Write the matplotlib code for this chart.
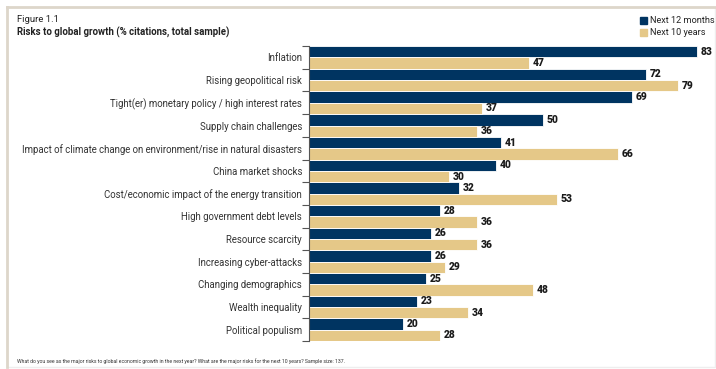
import matplotlib.pyplot as plt
from matplotlib.patches import Rectangle
import numpy as np

plt.rcParams['font.family'] = ['Roboto', 'DejaVu Sans']

risks = ["Inflation", "Rising geopolitical risk", "Tight(er) monetary policy / high interest rates",
         "Supply chain challenges", "Impact of climate change on environment/rise in natural disasters",
         "China market shocks", "Cost/economic impact of the energy transition",
         "High government debt levels", "Resource scarcity", "Increasing cyber-attacks",
         "Changing demographics", "Wealth inequality", "Political populism"]
next_12m = [83, 72, 69, 50, 41, 40, 32, 28, 26, 26, 25, 23, 20]
next_10y = [47, 79, 37, 36, 66, 30, 53, 36, 36, 29, 48, 34, 28]

navy = "#003461"
gold = "#E5C888"

fig = plt.figure(figsize=(7.16, 3.69), dpi=100)
ax = fig.add_axes([0.4316, 0.076, 0.555, 0.799])

y = np.arange(len(risks))
ax.barh(y - 0.25, next_12m, height=0.5, color=navy, edgecolor="white", linewidth=0.6)
ax.barh(y + 0.25, next_10y, height=0.5, color=gold, edgecolor="white", linewidth=0.6)
for i in range(len(risks)):
    ax.text(next_12m[i] + 0.8, y[i] - 0.25, str(next_12m[i]), va="center", ha="left",
            fontsize=7.4, fontweight="black", color="#1a1a1a")
    ax.text(next_10y[i] + 0.8, y[i] + 0.25, str(next_10y[i]), va="center", ha="left",
            fontsize=7.4, fontweight="black", color="#1a1a1a")

ax.set_xlim(0, 85)
ax.set_ylim(len(risks) - 0.5, -0.5)
ax.set_yticks(y)
ax.set_yticklabels(risks, fontsize=6.9, color="#333333")
ax.set_yticks(np.arange(len(risks) + 1) - 0.5, minor=True)
ax.tick_params(axis="y", which="major", length=0, pad=5)
ax.tick_params(axis="y", which="minor", length=5, color="#555555", width=0.8)
ax.set_xticks([])
for s in ["top", "right", "bottom"]:
    ax.spines[s].set_visible(False)
ax.spines["left"].set_color("#555555")
ax.spines["left"].set_linewidth(0.8)

# frame around the figure
fig.patches.append(Rectangle((7 / 716, 2 / 369), 708 / 716, 360 / 369, transform=fig.transFigure,
                             fill=False, edgecolor="#EEEEEE", linewidth=1.0))
fig.add_artist(plt.Line2D([7 / 716, 7 / 716], [2 / 369, 362 / 369], transform=fig.transFigure,
                          color="#DDD6CA", linewidth=2.0))
fig.add_artist(plt.Line2D([7 / 716, 715 / 716], [362 / 369, 362 / 369], transform=fig.transFigure,
                          color="#DDD6CA", linewidth=2.0))

fig.text(17 / 716, 1 - 19 / 369, "Figure 1.1", fontsize=6.8, color="#222222", va="center")
fig.text(17 / 716, 1 - 32 / 369, "Risks to global growth (% citations, total sample)", fontsize=6.9,
         fontweight="bold", color="#222222", va="center")

fig.patches.append(Rectangle((640 / 716, 1 - 24 / 369), 7 / 716, 7 / 369, transform=fig.transFigure,
                             color=navy))
fig.patches.append(Rectangle((640 / 716, 1 - 36 / 369), 7 / 716, 7 / 369, transform=fig.transFigure,
                             color=gold))
fig.text(650 / 716, 1 - 20.5 / 369, "Next 12 months", fontsize=6.6, color="#222222", va="center")
fig.text(650 / 716, 1 - 32.5 / 369, "Next 10 years", fontsize=6.6, color="#222222", va="center")

fig.text(17 / 716, 1 - 361 / 369,
         "What do you see as the major risks to global economic growth in the next year? "
         "What are the major risks for the next 10 years? Sample size: 137.",
         fontsize=3.7, color="#333333", va="center")

fig.savefig("out.png", dpi=100, facecolor="white")
